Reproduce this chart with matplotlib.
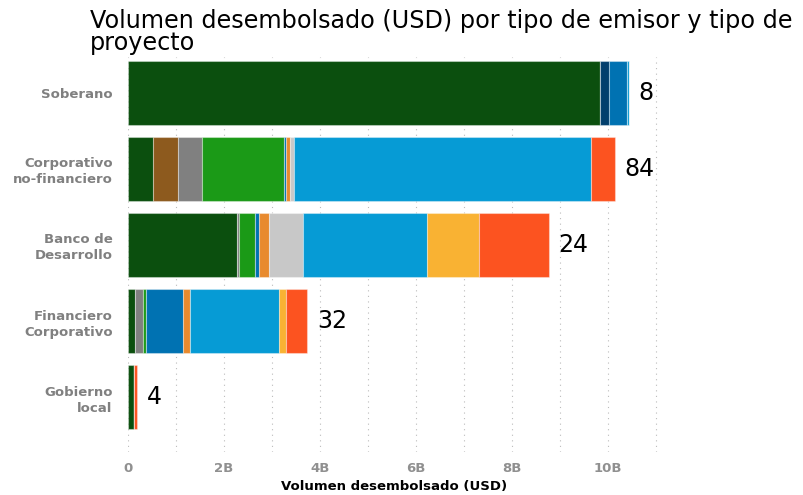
import numpy as np
import matplotlib
matplotlib.use("Agg")
import matplotlib.pyplot as plt
from matplotlib.ticker import MultipleLocator, FuncFormatter

# emisores (de arriba hacia abajo)
emisores = ["Soberano", "Corporativo\nno-financiero", "Banco de\nDesarrollo",
            "Financiero\nCorporativo", "Gobierno\nlocal"]
n_bonos = [8, 84, 24, 32, 4]

# tipos de proyecto, en el orden en que se apilan
tipos = ["Energía", "Industria", "Residuos", "Agua", "Adaptación", "Edificios",
         "Agricultura", "Otros", "Transporte", "Social", "Mixto"]
colores = ["#0b4f0e", "#8d5a1e", "#808080", "#1b9a17", "#023f6d", "#0072b2",
           "#e88a2e", "#c8c8c8", "#069bd5", "#f9b233", "#fc5320"]

# volumen desembolsado en miles de millones de USD
soberano = [9.83, 0, 0, 0, 0.19, 0.37, 0, 0, 0.04, 0, 0]
corporativo = [0.52, 0.52, 0.50, 1.71, 0, 0.04, 0.08, 0.08, 6.20, 0, 0.50]
banco = [2.27, 0, 0.04, 0.33, 0, 0.10, 0.19, 0.71, 2.60, 1.08, 1.44]
financiero = [0.15, 0, 0.17, 0.06, 0, 0.77, 0.14, 0, 1.86, 0.14, 0.45]
gobierno = [0.12, 0, 0, 0.01, 0, 0, 0, 0, 0, 0, 0.06]

valores = np.array([soberano, corporativo, banco, financiero, gobierno])

fig = plt.figure(figsize=(8.04, 4.95), dpi=100)
ax = fig.add_axes([0.159, 0.087, 0.663, 0.798])

ypos = np.arange(len(emisores))[::-1]
left = np.zeros(len(emisores))
for j, tipo in enumerate(tipos):
    ax.barh(ypos, valores[:, j], left=left, height=0.84, color=colores[j],
            edgecolor=(1, 1, 1, 0.35), linewidth=0.8, label=tipo, zorder=2)
    left += valores[:, j]

for y, total, n in zip(ypos, left, n_bonos):
    ax.text(total + 0.2, y, str(n), va="center", ha="left", fontsize=17,
            color="black", fontweight="medium")

ax.set_xlim(0, 11.1)
ax.set_ylim(-0.72, 4.47)
ax.xaxis.set_major_locator(MultipleLocator(2))
ax.xaxis.set_minor_locator(MultipleLocator(1))
ax.xaxis.set_major_formatter(FuncFormatter(lambda v, p: "0" if v == 0 else f"{v:.0f}B"))
ax.grid(axis="x", which="both", linestyle=(0, (1, 4)), color="#bbbbbb",
        linewidth=0.8, zorder=0)
ax.set_yticks(ypos)
ax.set_yticklabels(emisores, fontsize=9.5, fontweight="bold", color="#808080",
                   linespacing=1.3)
for lab in ax.get_xticklabels():
    lab.set_fontsize(9.5)
    lab.set_fontweight("bold")
    lab.set_color("#909090")
ax.tick_params(axis="x", which="both", length=0, pad=7)
ax.tick_params(axis="y", which="both", length=0, pad=11)
for s in ax.spines.values():
    s.set_visible(False)

ax.set_xlabel("Volumen desembolsado (USD)", fontsize=9.5, fontweight="bold",
              color="black", labelpad=4)
fig.text(0.112, 0.982, "Volumen desembolsado (USD) por tipo de emisor y tipo de\nproyecto",
         fontsize=17.2, ha="left", va="top", color="black", linespacing=0.92)

fig.savefig("out.png", dpi=100)
